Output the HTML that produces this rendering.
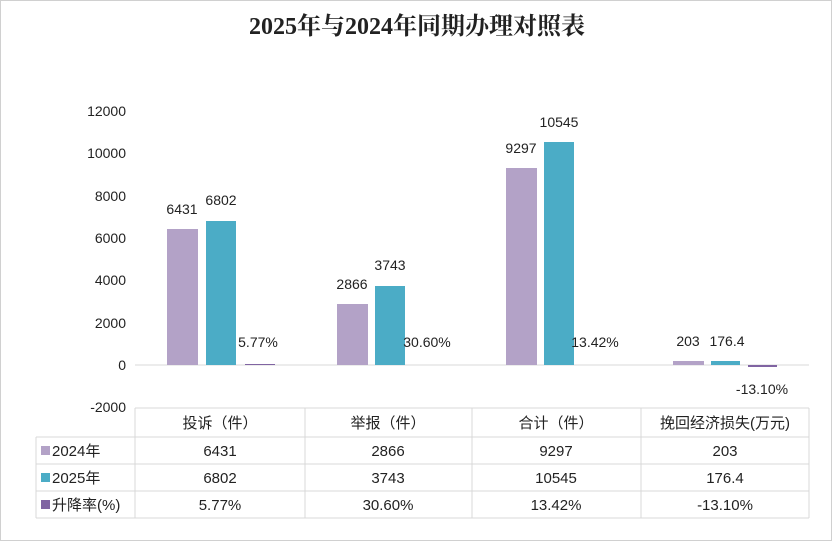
<!DOCTYPE html>
<html><head><meta charset="utf-8"><style>
body{margin:0;background:#fff;}
svg text{font-family:"Liberation Sans","Noto Sans CJK SC",sans-serif;fill:#222;}
</style></head><body>
<svg width="834" height="543" viewBox="0 0 834 543" xmlns="http://www.w3.org/2000/svg">
<rect x="0.5" y="0.5" width="831" height="540" fill="#fff" stroke="#d0d0d0"/>
<text x="417" y="34" text-anchor="middle" style="font-family:'Liberation Serif','Noto Serif CJK SC',serif;font-weight:bold;font-size:24px">2025年与2024年同期办理对照表</text>
<g font-size="14" text-anchor="end">
<text x="126" y="116">12000</text><text x="126" y="158">10000</text><text x="126" y="201">8000</text><text x="126" y="243">6000</text><text x="126" y="285">4000</text><text x="126" y="328">2000</text><text x="126" y="370">0</text><text x="126" y="412">-2000</text>
</g>
<line x1="135" y1="365" x2="809" y2="365" stroke="#d9d9d9"/>
<!-- bars -->
<g>
<rect x="167" y="229" width="31" height="136" fill="#b3a2c7"/>
<rect x="206" y="221" width="30" height="144" fill="#4bacc6"/>
<rect x="245" y="364" width="30" height="1" fill="#8064a2"/>
<rect x="337" y="304" width="31" height="61" fill="#b3a2c7"/>
<rect x="375" y="286" width="30" height="79" fill="#4bacc6"/>
<rect x="506" y="168" width="31" height="197" fill="#b3a2c7"/>
<rect x="544" y="142" width="30" height="223" fill="#4bacc6"/>
<rect x="673" y="361" width="31" height="4" fill="#b3a2c7"/>
<rect x="711" y="361" width="29" height="4" fill="#4bacc6"/>
<rect x="748" y="365" width="29" height="2" fill="#8064a2"/>
</g>
<g font-size="14" text-anchor="middle">
<text x="182" y="214">6431</text><text x="221" y="205">6802</text><text x="258" y="347">5.77%</text>
<text x="352" y="289">2866</text><text x="390" y="270">3743</text><text x="427" y="347">30.60%</text>
<text x="521" y="153">9297</text><text x="559" y="127">10545</text><text x="595" y="347">13.42%</text>
<text x="688" y="346">203</text><text x="727" y="346">176.4</text><text x="762" y="394">-13.10%</text>
</g>
<!-- table -->
<g stroke="#d9d9d9" fill="none">
<line x1="135" y1="408" x2="809" y2="408"/>
<line x1="36" y1="437" x2="809" y2="437"/>
<line x1="36" y1="464" x2="809" y2="464"/>
<line x1="36" y1="491" x2="809" y2="491"/>
<line x1="36" y1="518" x2="809" y2="518"/>
<line x1="36" y1="437" x2="36" y2="518"/>
<line x1="135" y1="408" x2="135" y2="518"/>
<line x1="305" y1="408" x2="305" y2="518"/>
<line x1="472" y1="408" x2="472" y2="518"/>
<line x1="641" y1="408" x2="641" y2="518"/>
<line x1="809" y1="408" x2="809" y2="518"/>
</g>
<g font-size="15" text-anchor="middle">
<text x="220" y="428">投诉（件）</text><text x="388" y="428">举报（件）</text><text x="556" y="428">合计（件）</text><text x="725" y="428">挽回经济损失(万元)</text>
<text x="220" y="456">6431</text><text x="388" y="456">2866</text><text x="556" y="456">9297</text><text x="725" y="456">203</text>
<text x="220" y="483">6802</text><text x="388" y="483">3743</text><text x="556" y="483">10545</text><text x="725" y="483">176.4</text>
<text x="220" y="510">5.77%</text><text x="388" y="510">30.60%</text><text x="556" y="510">13.42%</text><text x="725" y="510">-13.10%</text>
</g>
<rect x="41" y="446" width="9" height="9" fill="#b3a2c7"/>
<rect x="41" y="473" width="9" height="9" fill="#4bacc6"/>
<rect x="41" y="500" width="9" height="9" fill="#8064a2"/>
<g font-size="15">
<text x="52" y="456">2024年</text><text x="52" y="483">2025年</text><text x="52" y="510">升降率(%)</text>
</g>
</svg>
</body></html>
